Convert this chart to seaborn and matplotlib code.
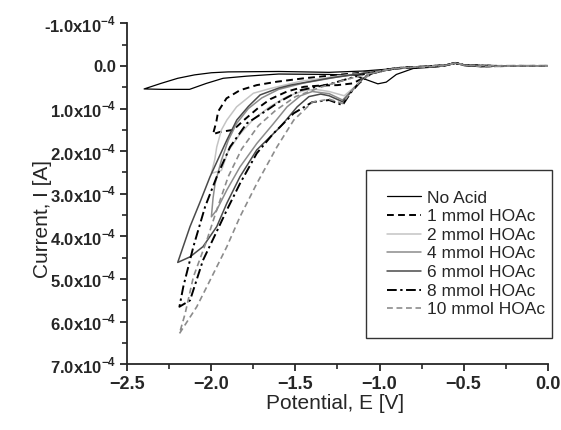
import numpy as np
import matplotlib
matplotlib.use("Agg")
import matplotlib.pyplot as plt
import seaborn as sns
from matplotlib.ticker import MultipleLocator, FixedLocator, FixedFormatter

# ---------------------------------------------------------------
# Cyclic voltammograms, current in units of 1e-4 A
# each curve: forward sweep 0 -> E_min, then back to 0
# ---------------------------------------------------------------
labels = ["No Acid", "1 mmol HOAc", "2 mmol HOAc", "4 mmol HOAc",
          "6 mmol HOAc", "8 mmol HOAc", "10 mmol HOAc"]

E_noacid = [0.0, -0.2, -0.4, -0.5, -0.55, -0.6, -0.7, -0.8, -0.9, -1.0, -1.1, -1.3, -1.6,
            -1.9, -2.0, -2.1, -2.2, -2.3, -2.4,
            -2.29, -2.13, -2.03, -1.93, -1.79, -1.6, -1.3, -1.15, -1.08, -1.01, -0.96, -0.9,
            -0.8, -0.65, -0.55, -0.45, -0.2, 0.0]
I_noacid = [0.0, 0.0, 0.01, -0.03, -0.08, -0.03, 0.02, 0.04, 0.06, 0.09, 0.12, 0.15, 0.13,
            0.14, 0.16, 0.21, 0.29, 0.41, 0.54,
            0.55, 0.55, 0.41, 0.29, 0.24, 0.19, 0.2, 0.22, 0.32, 0.42, 0.38, 0.2,
            0.06, 0.02, -0.06, 0.0, 0.0, 0.0]

E_1mm = [0.0, -0.2, -0.4, -0.5, -0.55, -0.6, -0.7, -0.8, -0.9, -0.95, -1.05, -1.1, -1.16,
         -1.25, -1.35, -1.45, -1.55, -1.65, -1.72, -1.8, -1.87, -1.95, -1.99,
         -1.97, -1.96, -1.91, -1.83, -1.73, -1.61, -1.45, -1.25, -1.0, -0.9, -0.8, -0.6,
         -0.55, -0.5, -0.3, 0.0]
I_1mm = [0.0, 0.0, 0.01, -0.02, -0.07, -0.02, 0.02, 0.03, 0.05, 0.08, 0.17, 0.29, 0.41,
         0.45, 0.46, 0.49, 0.6, 0.78, 0.98, 1.25, 1.5, 1.55, 1.6,
         1.3, 1.07, 0.76, 0.57, 0.45, 0.37, 0.29, 0.21, 0.12, 0.06, 0.03, -0.02,
         -0.07, -0.02, 0.0, 0.0]

E_2mm = [0.0, -0.2, -0.4, -0.5, -0.55, -0.6, -0.7, -0.8, -0.9, -0.95, -1.05, -1.1, -1.15,
         -1.21, -1.3, -1.38, -1.45, -1.55, -1.65, -1.75, -1.83, -1.9, -1.94, -2.0,
         -1.98, -1.968, -1.94, -1.908, -1.85, -1.75, -1.65, -1.47, -1.25, -1.0, -0.9,
         -0.8, -0.6, -0.55, -0.5, -0.3, 0.0]
I_2mm = [0.0, 0.0, 0.01, -0.02, -0.07, -0.02, 0.02, 0.03, 0.05, 0.09, 0.18, 0.3, 0.5,
         0.7, 0.6, 0.55, 0.58, 0.72, 0.95, 1.25, 1.6, 2.0, 2.45, 2.52,
         2.2, 1.9, 1.5, 1.27, 0.96, 0.64, 0.53, 0.36, 0.24, 0.12, 0.06,
         0.03, -0.02, -0.07, -0.02, 0.0, 0.0]

E_4mm = [0.0, -0.2, -0.4, -0.5, -0.55, -0.6, -0.7, -0.8, -0.9, -0.95, -1.05, -1.1, -1.15,
         -1.22, -1.3, -1.4, -1.47, -1.55, -1.63, -1.73, -1.83, -1.908, -1.968, -2.0,
         -1.99, -1.978, -1.94, -1.9, -1.85, -1.78, -1.7, -1.6, -1.45, -1.25, -1.0, -0.9,
         -0.8, -0.6, -0.55, -0.5, -0.3, 0.0]
I_4mm = [0.0, 0.0, 0.01, -0.02, -0.07, -0.02, 0.02, 0.03, 0.05, 0.09, 0.18, 0.3, 0.52,
         0.8, 0.65, 0.6, 0.7, 0.96, 1.35, 1.82, 2.37, 2.91, 3.38, 3.54,
         3.1, 2.76, 2.21, 1.75, 1.35, 1.0, 0.75, 0.55, 0.4, 0.26, 0.12, 0.06,
         0.03, -0.02, -0.07, -0.02, 0.0, 0.0]

E_6mm = [0.0, -0.2, -0.4, -0.5, -0.55, -0.6, -0.7, -0.8, -0.9, -0.95, -1.05, -1.1, -1.15,
         -1.22, -1.3, -1.35, -1.42, -1.49, -1.59, -1.73, -1.83, -1.908, -1.968, -2.05,
         -2.127, -2.2,
         -2.127, -2.068, -2.008, -1.95, -1.908, -1.849, -1.78, -1.71, -1.6, -1.53, -1.29,
         -1.0, -0.9, -0.8, -0.6, -0.55, -0.5, -0.3, 0.0]
I_6mm = [0.0, 0.0, 0.01, -0.02, -0.07, -0.02, 0.02, 0.03, 0.05, 0.09, 0.18, 0.3, 0.52,
         0.84, 0.7, 0.66, 0.72, 0.96, 1.43, 1.97, 2.6, 3.22, 3.77, 4.24,
         4.48, 4.61,
         3.77, 3.2, 2.6, 2.1, 1.74, 1.27, 0.95, 0.68, 0.52, 0.45, 0.28,
         0.12, 0.06, 0.03, -0.02, -0.07, -0.02, 0.0, 0.0]

E_8mm = [0.0, -0.2, -0.4, -0.5, -0.55, -0.6, -0.7, -0.8, -0.9, -0.95, -1.05, -1.12, -1.17,
         -1.22, -1.3, -1.4, -1.51, -1.63, -1.73, -1.83, -1.908, -1.97, -2.05, -2.127,
         -2.19,
         -2.167, -2.107, -2.037, -1.968, -1.889, -1.79, -1.67, -1.6, -1.47, -1.29, -1.1,
         -1.0, -0.9, -0.8, -0.6, -0.55, -0.5, -0.3, 0.0]
I_8mm = [0.0, 0.0, 0.01, -0.02, -0.07, -0.02, 0.02, 0.03, 0.05, 0.09, 0.18, 0.4, 0.62,
         0.92, 0.8, 0.85, 1.11, 1.58, 2.05, 2.76, 3.38, 3.9, 4.56, 5.5,
         5.65,
         5.18, 4.24, 3.3, 2.6, 1.9, 1.35, 1.04, 0.85, 0.57, 0.42, 0.2,
         0.12, 0.06, 0.03, -0.02, -0.07, -0.02, 0.0, 0.0]

E_10mm = [0.0, -0.2, -0.4, -0.5, -0.55, -0.6, -0.7, -0.8, -0.9, -0.95, -1.05, -1.12, -1.17,
          -1.22, -1.3, -1.4, -1.51, -1.61, -1.73, -1.83, -1.908, -2.008, -2.087, -2.19,
          -2.156, -2.107, -2.027, -1.97, -1.9, -1.82, -1.72, -1.62, -1.5, -1.35, -1.2,
          -1.0, -0.9, -0.8, -0.6, -0.55, -0.5, -0.3, 0.0]
I_10mm = [0.0, 0.0, 0.01, -0.02, -0.07, -0.02, 0.02, 0.03, 0.05, 0.09, 0.18, 0.38, 0.6,
          0.88, 0.78, 0.85, 1.27, 1.9, 2.76, 3.54, 4.24, 5.03, 5.65, 6.28,
          5.81, 4.95, 4.09, 3.4, 2.6, 1.95, 1.4, 1.05, 0.72, 0.5, 0.32,
          0.12, 0.06, 0.03, -0.02, -0.07, -0.02, 0.0, 0.0]

curves = [(E_noacid, I_noacid), (E_1mm, I_1mm), (E_2mm, I_2mm), (E_4mm, I_4mm),
          (E_6mm, I_6mm), (E_8mm, I_8mm), (E_10mm, I_10mm)]

colors = ["black", "black", "#c4c4c4", "#8c8c8c", "#4a4a4a", "black", "#8c8c8c"]
widths = [0.9, 1.4, 1.1, 1.1, 1.1, 1.4, 1.2]
dashes = [None, (3.5, 2.2), None, None, None, (5, 1.8, 1.2, 1.8), (3.5, 2.2)]

y_ticks = [-1, 0, 1, 2, 3, 4, 5, 6, 7]
y_ticklabels = ["-1.0x10$^{-4}$", "0.0", "1.0x10$^{-4}$", "2.0x10$^{-4}$", "3.0x10$^{-4}$",
                "4.0x10$^{-4}$", "5.0x10$^{-4}$", "6.0x10$^{-4}$", "7.0x10$^{-4}$"]

# ---------------------------------------------------------------
sns.set_style("ticks")
plt.rcParams["font.family"] = ["Liberation Sans", "DejaVu Sans"]
plt.rcParams["mathtext.fontset"] = "custom"
plt.rcParams["mathtext.rm"] = "Liberation Sans:bold"
plt.rcParams["mathtext.bf"] = "Liberation Sans:bold"

fig = plt.figure(figsize=(5.61, 4.30), dpi=100)
ax = fig.add_axes([0.2269, 0.1528, 0.7494, 0.7930])

for (E, I), lab, c, lw, d in zip(curves, labels, colors, widths, dashes):
    sns.lineplot(x=E, y=[v * 1e-4 for v in I], sort=False, estimator=None, ax=ax,
                 color=c, linewidth=lw, label=lab)
    line = ax.get_lines()[-1]
    if d is not None:
        line.set_dashes(d)

ax.set_xlim(-2.5, 0.0)
ax.set_ylim(7e-4, -1e-4)
ax.xaxis.set_major_locator(MultipleLocator(0.5))
ax.xaxis.set_minor_locator(MultipleLocator(0.25))
ax.yaxis.set_major_locator(FixedLocator([v * 1e-4 for v in y_ticks]))
ax.yaxis.set_major_formatter(FixedFormatter(y_ticklabels))
ax.yaxis.set_minor_locator(MultipleLocator(0.5e-4))

for side in ["top", "right"]:
    ax.spines[side].set_visible(False)
for side in ["left", "bottom"]:
    ax.spines[side].set_linewidth(1.3)
ax.tick_params(which="major", length=5, width=1.3, labelsize=13, direction="out")
ax.tick_params(axis="y", which="major", labelsize=12, pad=3)
ax.tick_params(which="minor", length=3.5, width=1.2, direction="out")
for t in ax.get_xticklabels() + ax.get_yticklabels():
    t.set_fontweight("bold")

ax.set_xlabel("Potential, E [V]", fontsize=15)
ax.set_ylabel("Current, I [A]", fontsize=15)
ax.xaxis.set_label_coords(0.494, -0.088)
ax.yaxis.set_label_coords(-0.18, 0.425)

leg = ax.legend(loc="upper left", bbox_to_anchor=(0.568, 0.071, 0.442, 0.499),
                mode="expand", fontsize=12.5, frameon=True, fancybox=False,
                handlelength=2.0, handletextpad=0.35, labelspacing=0.2,
                borderpad=1.18, borderaxespad=0)
leg.get_frame().set_edgecolor("black")
leg.get_frame().set_linewidth(1.0)

fig.savefig("out.png", dpi=100)
